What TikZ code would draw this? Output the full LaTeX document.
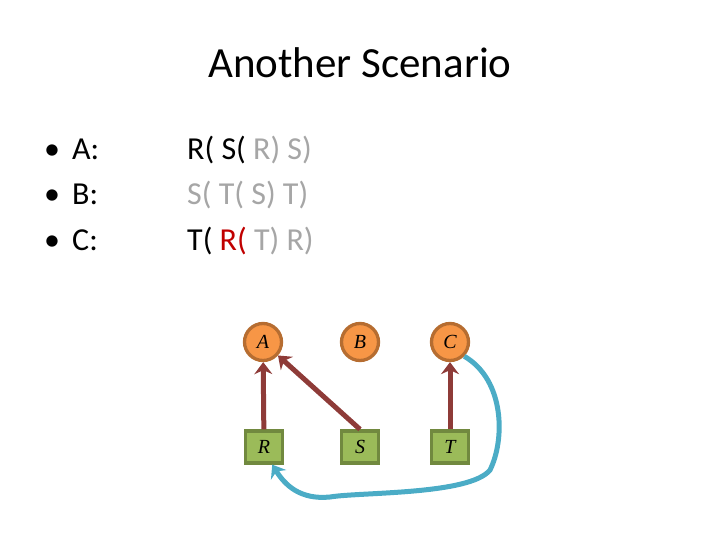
\documentclass[tikz,border=0pt]{standalone}
\usepackage{fontspec}
\setmainfont{Carlito}
\newfontfamily\lblfont{Liberation Serif}
\usetikzlibrary{arrows.meta}
\definecolor{gtxt}{HTML}{A6A6A6}
\definecolor{rtxt}{HTML}{C00000}
\definecolor{ofill}{HTML}{F79646}
\definecolor{oline}{HTML}{B66D31}
\definecolor{gfill}{HTML}{9BBB59}
\definecolor{gline}{HTML}{71893F}
\definecolor{arr}{HTML}{8E3B38}
\definecolor{cyanarr}{HTML}{4BACC6}
\tikzset{
  vnode/.style={circle, fill=ofill, draw=oline, line width=3.3pt, minimum size=37pt, inner sep=0pt, font=\lblfont\itshape\fontsize{20}{20}\selectfont},
  rnode/.style={rectangle, fill=gfill, draw=gline, line width=3.3pt, minimum width=37pt, minimum height=32pt, inner sep=0pt, font=\lblfont\itshape\fontsize{20}{20}\selectfont},
  redarrow/.style={draw=arr, line width=5pt, -{Stealth[length=12pt,width=18pt,inset=4pt]}},
  cyanarrow/.style={draw=cyanarr, line width=5pt, -{Stealth[length=12pt,width=18pt,inset=4pt]}},
  body/.style={anchor=base west, inner sep=0pt, font=\fontsize{32}{32}\selectfont},
}
\begin{document}
\begin{tikzpicture}[x=1pt,y=-1pt]
\useasboundingbox (0,0) rectangle (720,540);
\node[anchor=base, inner sep=0pt, font=\fontsize{43}{43}\selectfont] (title) at (360,78) {Another Scenario};
\node[body] (d1) at (44,160) {\textbullet};
\node[body] (d2) at (44,205) {\textbullet};
\node[body] (d3) at (44,250) {\textbullet};
\node[body] (b1) at (72,160) {A:};
\node[body] (b2) at (72,205) {B:};
\node[body] (b3) at (72,250) {C:};
\node[body] (l1) at (187,160) {R( S( \textcolor{gtxt}{R) S)}};
\node[body] (l2) at (187,205) {\textcolor{gtxt}{S( T( S) T)}};
\node[body] (l3) at (187,250) {T( \textcolor{rtxt}{R(} \textcolor{gtxt}{T) R)}};
\node[vnode] (A) at (263,342) {A};
\node[vnode] (B) at (360,342) {B};
\node[vnode] (C) at (450,342) {C};
\node[rnode] (R) at (264,447) {R};
\node[rnode] (S) at (360,447) {S};
\node[rnode] (T) at (450,447) {T};
\draw[redarrow] (R) -- (A);
\draw[redarrow] (S.north) -- (A);
\draw[redarrow] (T) -- (C);
\draw[cyanarrow] (C.-45) .. controls (505,380) and (505,440) .. (490,470) .. controls (470,495) and (360,492) .. (330,497) .. controls (300,500) and (285,485) .. (R.-65);
\end{tikzpicture}
\end{document}
